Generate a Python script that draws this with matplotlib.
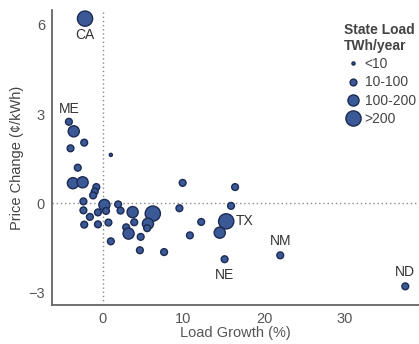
import matplotlib.pyplot as plt
from matplotlib.lines import Line2D

# load growth (%) and price change (c/kWh) per state
load_growth = [-2.2, -4.2, -3.6, -2.3, -4.0, 1.0, -3.1, -3.7, -2.5, -0.8,
               -1.0, -1.2, -2.4, 0.2, 1.9, -2.4, -0.6, 0.4, 2.2, 3.7,
               -1.6, 6.2, -2.3, -0.6, 0.7, 3.9, 5.6, 5.5, 2.9, 3.2,
               4.7, 1.0, 4.6, 7.6, 9.9, 9.5, 12.2, 10.8, 16.4, 15.9,
               15.3, 14.5, 15.1, 22.0, 37.5]
price_change = [6.2, 2.74, 2.42, 2.04, 1.85, 1.63, 1.2, 0.68, 0.71, 0.55,
                0.40, 0.27, 0.07, -0.05, -0.03, -0.23, -0.30, -0.25, -0.24, -0.29,
                -0.45, -0.34, -0.71, -0.70, -0.64, -0.63, -0.68, -0.83, -0.80, -1.01,
                -1.12, -1.27, -1.57, -1.63, 0.69, -0.16, -0.62, -1.07, 0.55, -0.08,
                -0.6, -0.98, -1.87, -1.74, -2.78]
# 0: <10, 1: 10-100, 2: 100-200, 3: >200 TWh/year
load_class = [3, 1, 2, 1, 1, 0, 1, 2, 2, 1,
              1, 1, 1, 2, 1, 1, 1, 1, 1, 2,
              1, 3, 1, 1, 1, 1, 2, 1, 1, 2,
              1, 1, 1, 1, 1, 1, 1, 1, 1, 1,
              3, 2, 1, 1, 1]
class_names = ["<10", "10-100", "100-200", ">200"]

# labelled states: index -> (name, offset in points, ha, va)
state_labels = {
    0: ("CA", (0, -7), "center", "top"),
    1: ("ME", (0, 4), "center", "bottom"),
    40: ("TX", (7, 0), "left", "center"),
    42: ("NE", (0, -6), "center", "top"),
    43: ("NM", (0, 5), "center", "bottom"),
    44: ("ND", (0, 5), "center", "bottom"),
}

plt.rcParams['font.family'] = ['Liberation Sans', 'DejaVu Sans']

face = '#3b5997'
edge = '#1c2b52'
sizes = [5, 24, 64, 120]

fig = plt.figure(figsize=(4.19, 3.44), dpi=100)
ax = fig.add_axes([0.124, 0.113, 0.876, 0.858])

ax.axhline(0, color='#888888', ls=(0, (1, 2)), lw=1, zorder=1)
ax.axvline(0, color='#888888', ls=(0, (1, 2)), lw=1, zorder=1)

ax.scatter(load_growth, price_change, s=[sizes[c] for c in load_class],
           c=face, edgecolors=edge, linewidths=1, zorder=3)

for i, (name, off, ha, va) in state_labels.items():
    ax.annotate(name, (load_growth[i], price_change[i]), xytext=off,
                textcoords='offset points', ha=ha, va=va, fontsize=10, color='#333333')

ax.set_xlim(-6.3, 39.2)
ax.set_ylim(-3.41, 6.49)
ax.set_xticks([0, 10, 20, 30])
ax.set_yticks([-3, 0, 3, 6])
ax.tick_params(length=0, labelsize=10.5, labelcolor='#555555', pad=5)
for s in ['top', 'right']:
    ax.spines[s].set_visible(False)
for s in ['left', 'bottom']:
    ax.spines[s].set_color('#666666')
    ax.spines[s].set_linewidth(1.3)

ax.set_xlabel("Load Growth (%)", fontsize=10.5, color='#555555', labelpad=0)
ax.set_ylabel("Price Change (¢/kWh)", fontsize=10.5, color='#444444', labelpad=3)

handles = [Line2D([], [], marker='o', ls='', markersize=(sz ** 0.5),
                  markerfacecolor=face, markeredgecolor=edge, markeredgewidth=1)
           for sz in sizes]
leg = ax.legend(handles, class_names, title="State Load\nTWh/year", loc='upper left',
                bbox_to_anchor=(0.78, 0.975), frameon=False, fontsize=10,
                handletextpad=0.2, handlelength=1.3, labelspacing=0.3, borderaxespad=0,
                title_fontproperties={'weight': 'bold', 'size': 10})
leg._legend_box.align = "left"
leg.get_title().set_color('#444444')
for t in leg.get_texts():
    t.set_color('#444444')

fig.savefig("out.png", dpi=100)
